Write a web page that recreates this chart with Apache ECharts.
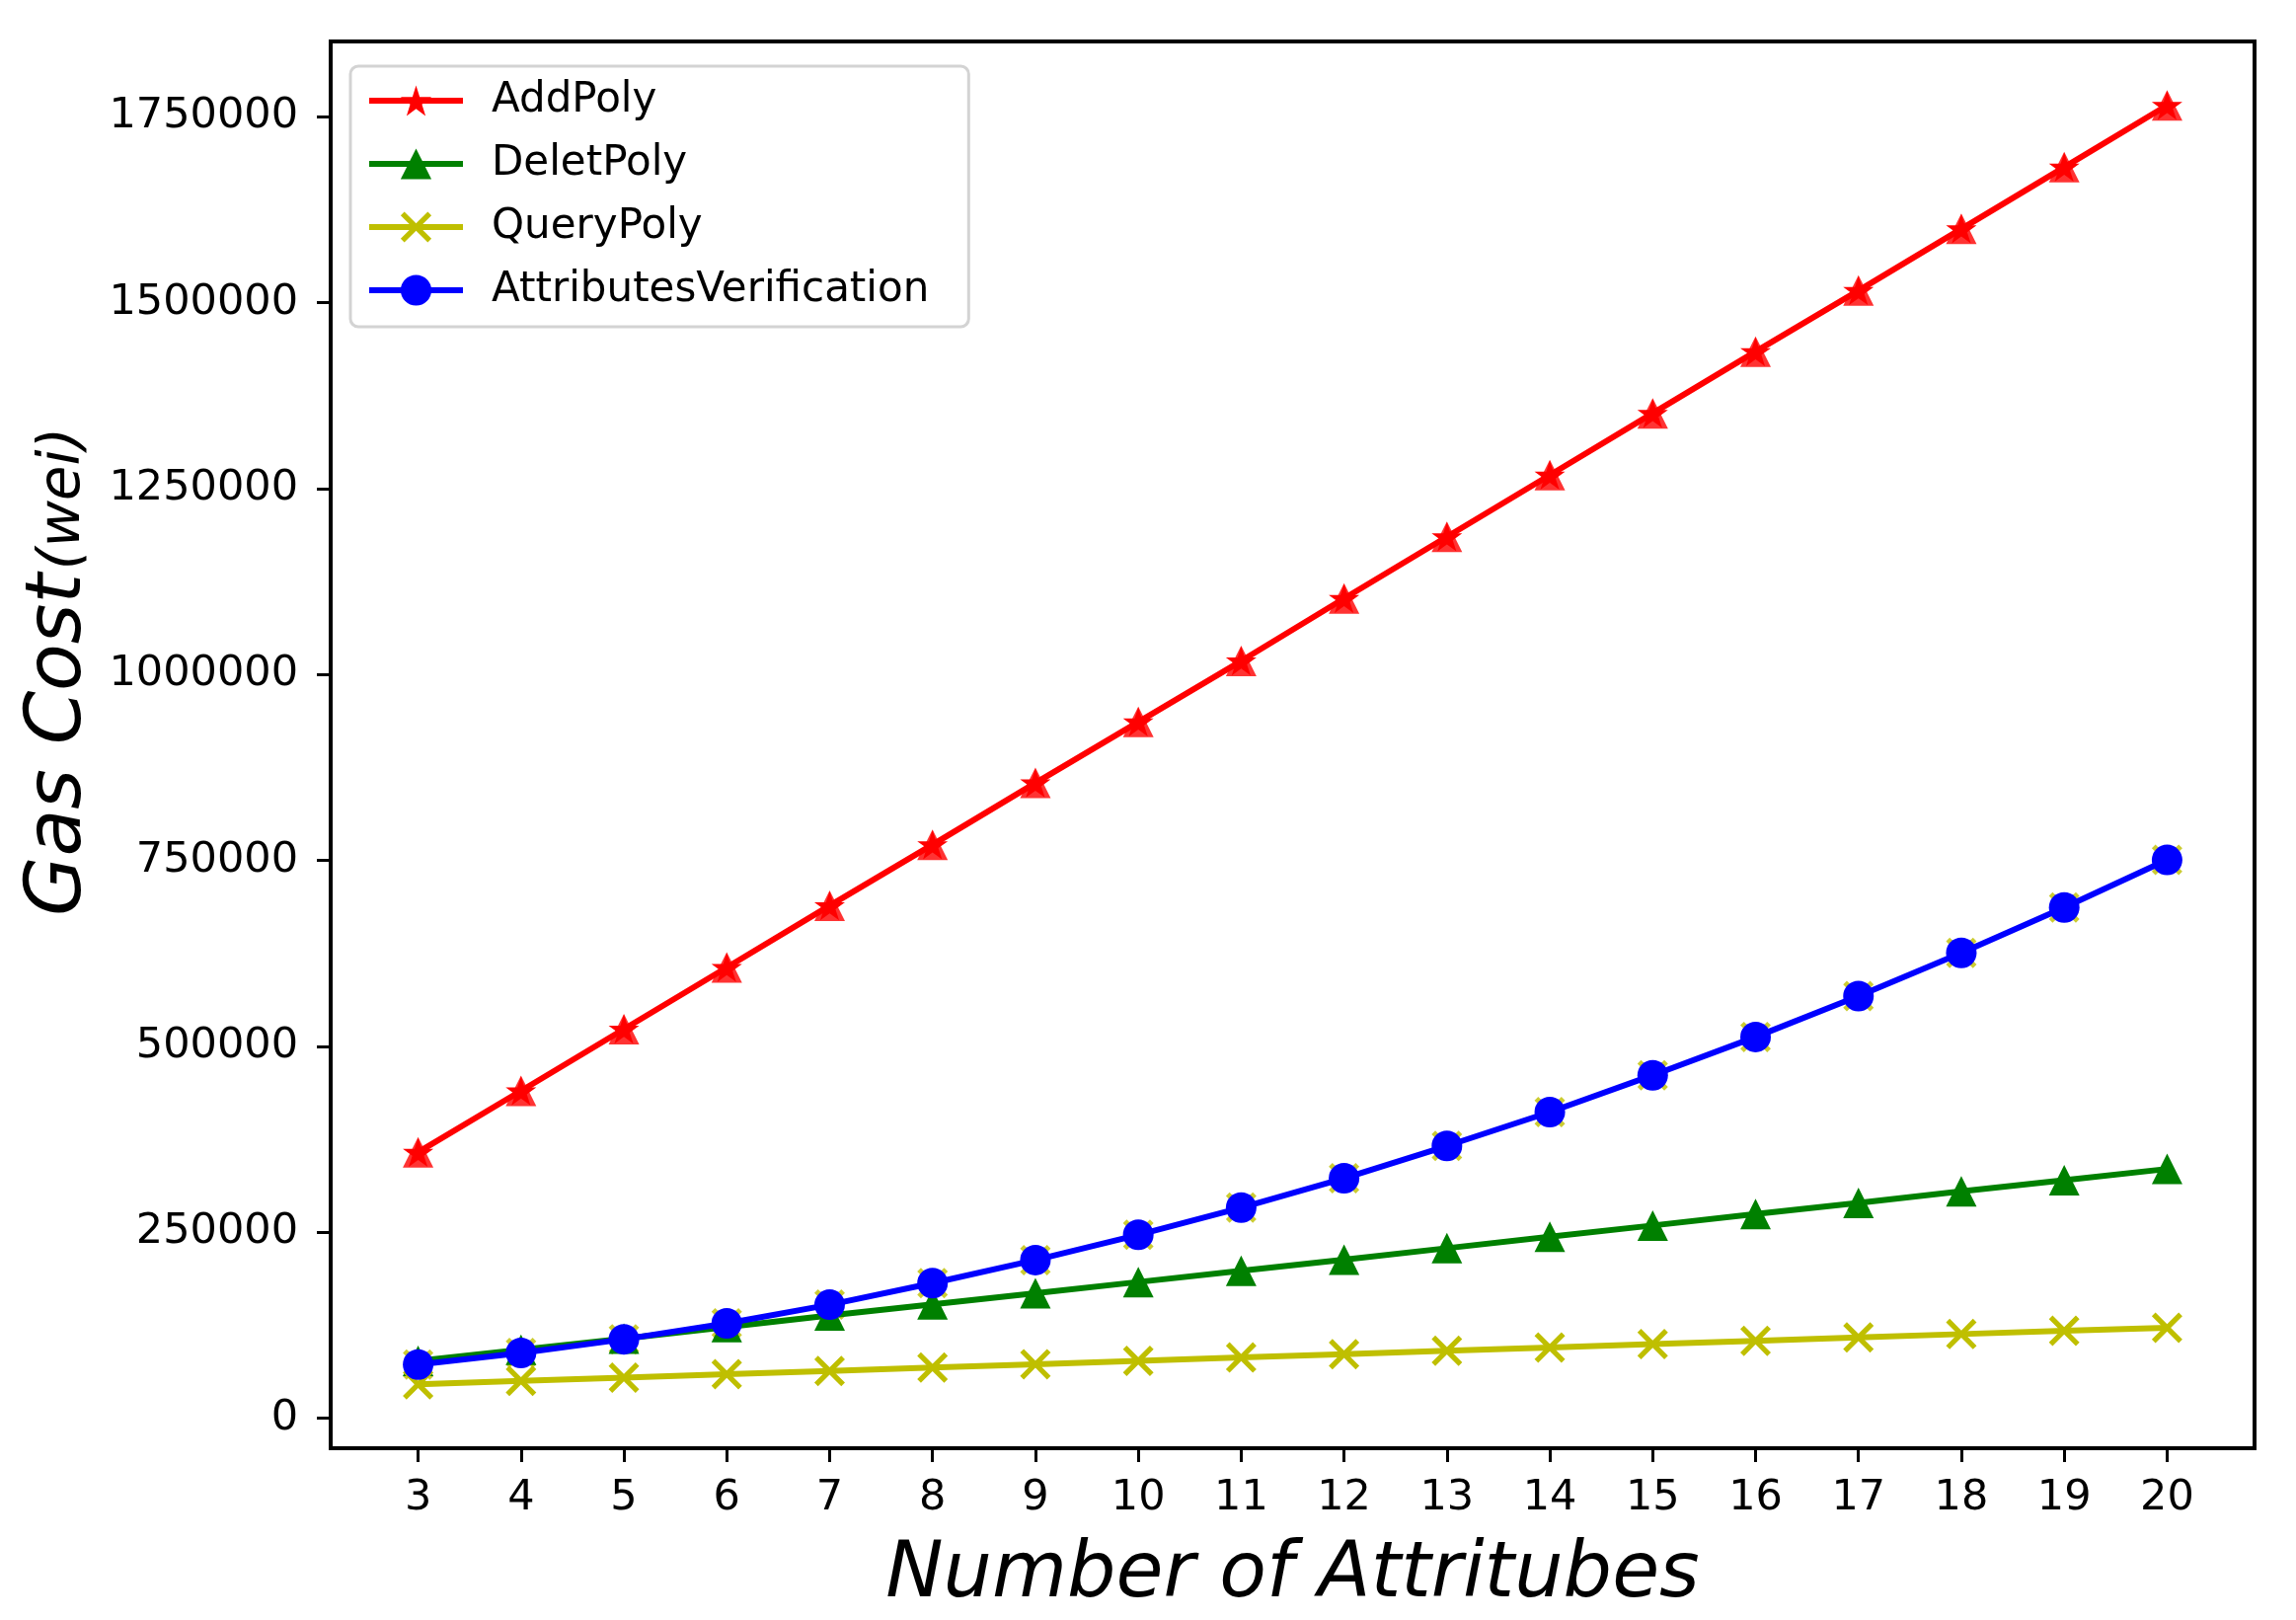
<!DOCTYPE html>
<html>
<head>
<meta charset="utf-8">
<script src="https://cdn.jsdelivr.net/npm/echarts@6/dist/echarts.min.js"></script>
<style>
html,body{margin:0;padding:0;background:#fff;}
#chart{width:2326px;height:1641px;}
</style>
</head>
<body>
<div id="chart"></div>
<script>
// ---- data ----
const attributes = [3, 4, 5, 6, 7, 8, 9, 10, 11, 12, 13, 14, 15, 16, 17, 18, 19, 20];
const addPoly   = [357500, 440000, 523000, 606000, 689000, 771000, 854000, 936000, 1018000, 1102000, 1185000, 1268000, 1351000, 1434000, 1516000, 1599000, 1682000, 1765000];
const deletPoly = [77000, 92000, 107000, 122500, 138000, 153000, 168000, 183000, 198000, 213000, 228500, 244000, 259000, 274500, 289500, 305000, 320000, 335000];
const queryPoly = [45500, 50000, 54500, 59000, 63500, 68000, 72500, 77000, 81500, 86000, 90500, 95000, 99500, 104000, 108500, 113000, 117500, 121500];
const attrVerif = [72000, 87500, 106000, 127500, 152500, 181500, 212500, 246500, 283000, 322500, 366000, 411500, 461000, 512500, 567500, 625500, 686500, 750500];
const yTicks = [0, 250000, 500000, 750000, 1000000, 1250000, 1500000, 1750000];
const xTicks = attributes;

const FONT = 'DejaVu Sans';
const STAR = 'path://M50,0L61.2,34.5L97.6,34.5L68.2,55.9L79.4,90.5L50,69.1L20.6,90.5L31.8,55.9L2.4,34.5L38.8,34.5Z';
const XMARK = 'path://M0,1.2L1.2,0L5,3.8L8.8,0L10,1.2L6.2,5L10,8.8L8.8,10L5,6.2L1.2,10L0,8.8L3.8,5Z';

function pts(arr) { return attributes.map((x, i) => [x, arr[i]]); }

const chart = echarts.init(document.getElementById('chart'), null, {renderer: 'canvas'});
const axisCommon = {
  axisLine: {show: true, onZero: false, lineStyle: {color: '#000', width: 4}},
  axisTick: {show: true, inside: false, length: 14, lineStyle: {color: '#000', width: 3}},
  splitLine: {show: false}
};
chart.setOption({
  animation: false,
  backgroundColor: '#fff',
  textStyle: {fontFamily: FONT},
  grid: {left: 335, right: 42, top: 42, bottom: 174, show: true, borderColor: '#000', borderWidth: 4, backgroundColor: 'transparent'},
  xAxis: Object.assign({}, axisCommon, {
    type: 'value', min: 2.15, max: 20.85,
    axisTick: Object.assign({}, axisCommon.axisTick, {customValues: xTicks}),
    axisLabel: {customValues: xTicks, color: '#000', fontSize: 43, fontFamily: FONT, margin: 29, formatter: v => String(v)},
    name: 'Number of Attritubes', nameLocation: 'middle', nameGap: 91,
    nameTextStyle: {fontSize: 78, fontStyle: 'italic', color: '#000', fontFamily: FONT}
  }),
  yAxis: Object.assign({}, axisCommon, {
    type: 'value', min: -40475, max: 1850975,
    axisTick: Object.assign({}, axisCommon.axisTick, {customValues: yTicks}),
    axisLabel: {customValues: yTicks, color: '#000', fontSize: 43, fontFamily: FONT, margin: 33, formatter: v => String(v)},
    name: 'Gas Cost', nameLocation: 'middle', nameRotate: 90, nameGap: 229,
    nameTextStyle: {fontSize: 78, fontStyle: 'italic', color: '#000', fontFamily: FONT}
  }),
  graphic: [{
    type: 'text', x: 65, y: 505, rotation: Math.PI / 2,
    style: {text: '(wei)', font: 'italic 58px "DejaVu Sans"', fill: '#000', align: 'center', verticalAlign: 'middle'}
  }],
  legend: {
    show: true, orient: 'vertical', left: 355, top: 67,
    data: ['AddPoly', 'DeletPoly', 'QueryPoly', 'AttributesVerification'],
    itemWidth: 95, itemHeight: 39, itemGap: 22,
    padding: [14, 40, 16, 16],
    lineStyle: {width: 6},
    borderColor: '#d3d3d3', borderWidth: 3, borderRadius: 8, backgroundColor: '#fff',
    textStyle: {fontSize: 42, color: '#000', fontFamily: FONT, padding: [0, 0, 0, 24]}
  },
  series: [
    {name: 'AddPolyTri', type: 'scatter', data: pts(addPoly), symbol: 'triangle', symbolSize: 31, itemStyle: {color: '#ff0000'}, silent: true},
    {name: 'AddPoly', type: 'line', data: pts(addPoly), symbol: STAR, symbolSize: 31, symbolKeepAspect: true, showSymbol: true,
     lineStyle: {color: '#ff0000', width: 6}, itemStyle: {color: '#ff0000'}},
    {name: 'DeletPoly', type: 'line', data: pts(deletPoly), symbol: 'triangle', symbolSize: 31, showSymbol: true,
     lineStyle: {color: '#008000', width: 6}, itemStyle: {color: '#008000'}},
    {name: 'QueryPolyX', type: 'scatter', data: pts(attrVerif), symbol: XMARK, symbolSize: 31, itemStyle: {color: '#bfbf00'}, silent: true},
    {name: 'QueryPoly', type: 'line', data: pts(queryPoly), symbol: XMARK, symbolSize: 31, showSymbol: true,
     lineStyle: {color: '#bfbf00', width: 6}, itemStyle: {color: '#bfbf00'}},
    {name: 'AttributesVerification', type: 'line', data: pts(attrVerif), symbol: 'circle', symbolSize: 31, showSymbol: true,
     lineStyle: {color: '#0000ff', width: 6}, itemStyle: {color: '#0000ff'}}
  ]
});
</script>
</body>
</html>
